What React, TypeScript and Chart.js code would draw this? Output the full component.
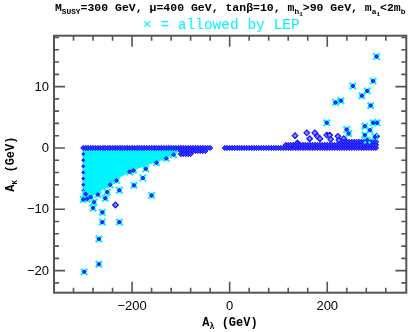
import React, { useEffect, useRef } from "react";
import { Chart, registerables } from "chart.js";
Chart.register(...registerables);

const X_MIN = -360;
const X_MAX = 362;
const Y_MIN = -23.6;
const Y_MAX = 18.3;
const xTickLabels = [-200, 0, 200];
const yTickLabels = [-20, -10, 0, 10];

// scan rows (blue diamonds)
const leftRow0X = [-300, -295, -290, -285, -280, -275, -270, -265, -260, -255, -250, -245, -240, -235, -230, -225, -220, -215, -210, -205, -200, -195, -190, -185, -180, -175, -170, -165, -160, -155, -150, -145, -140, -135, -130, -125, -120, -115, -110, -105, -100, -95, -90, -85, -80, -75, -70, -65, -60, -55, -50, -45, -40];
const leftRow0Y = 0;
const leftRow1X = [-100, -95, -90, -85, -80, -75, -70, -65, -60, -55, -50];
const leftRow1Y = -0.5;
const leftRow2X = [-100, -95, -90, -85, -80];
const leftRow2Y = -1.0;
const rightRow0X = [-10, -5, 0, 5, 10, 15, 20, 25, 30, 35, 40, 45, 50, 55, 60, 65, 70, 75, 80, 85, 90, 95, 100, 105, 110, 115, 120, 125, 130, 135, 140, 145, 150, 155, 160, 165, 170, 175, 180, 185, 190, 195, 200, 205, 210, 215, 220, 225, 230, 235, 240, 245, 250, 255, 260, 265, 270, 275, 280, 285, 290, 295, 300];
const rightRow0Y = 0;
const rightRow1X = [115, 120, 125, 130, 135, 140, 145, 150, 155, 160, 165, 170, 175, 180, 185, 190, 195, 200, 205, 210, 215, 220, 225, 230, 235, 240, 245, 250, 255, 260, 265, 270, 275, 280, 285, 290, 295, 300];
const rightRow1Y = 0.5;
const rightRow2X = [230, 235, 240, 245, 250, 255, 260, 265, 270, 275, 280, 285, 290, 295, 300];
const rightRow2Y = 1.0;
const edgeX = [-300, -300, -300, -300, -300, -300, -300, -296, -292];
const edgeY = [-1, -2, -3, -4, -5, -6, -7, -7.6, -8.0];

// not allowed scattered points
const otherX = [-234, 134, 158, 164, 174.5, 180, 185, 199, 205, 207, 222, 224, 234, 139, 301];
const otherY = [-9.3, 2.0, 2.46, 1.5, 2.46, 1.9, 1.5, 2.1, 2.1, 1.4, 1.9, 1.26, 1.5, 0.8, 1.9];

// allowed by LEP (cyan crosses)
const allowedX = [-197, -172, -178, -196, -226, -160, -232, -251, -255, -292, -278, -280, -261, -261, -226, -268, -268, -298, -150, -130, -115, -205, -245, -270, -285, -300, -295, 301, 294, 252.5, 282, 271, 289, 228, 217, 199, 240, 244, 277, 294, 302, 287.5, 277, 297.6, 282];
const allowedY = [-3.66, -3.4, -4.9, -6.1, -6.9, -7.75, -5.3, -7.2, -8.2, -8.3, -8.85, -9.8, -10.5, -12.1, -12.1, -14.85, -18.95, -20.2, -2.4, -1.7, -1.1, -3.9, -6.0, -7.6, -8.0, -8.4, -7.5, 14.9, 10.9, 10.1, 9.3, 8.5, 6.9, 7.7, 7.4, 4.1, 3.0, 2.35, 3.55, 4.1, 4.1, 2.9, 2.1, 1.8, 1.26];

// dense allowed region (lower boundary, filled to 0)
const lepRegionX = [-302, -290, -279, -265, -251, -240, -224, -205, -184, -165, -143, -125, -110, -100];
const lepRegionY = [-8.6, -8.4, -7.6, -7.0, -6.3, -5.5, -4.7, -3.8, -3.2, -2.6, -2.1, -1.4, -0.8, -0.3];

const BLUE = "#1010ff";
const CYAN = "#00f4ff";
const MONO = "'Liberation Mono', 'DejaVu Sans Mono', monospace";
const SANS = "'Liberation Sans', Arial, sans-serif";

type Seg = { t: string; l: number };

function richWidth(ctx: CanvasRenderingContext2D, segs: Seg[], size: number, weight: string) {
  let w = 0;
  for (const s of segs) {
    const fs = s.l === 0 ? size : s.l === 1 ? size * 0.68 : size * 0.52;
    ctx.font = `${weight} ${fs}px ${MONO}`;
    w += ctx.measureText(s.t).width;
  }
  return w;
}

function drawRich(ctx: CanvasRenderingContext2D, segs: Seg[], x: number, y: number, size: number, weight: string, color: string) {
  ctx.fillStyle = color;
  ctx.textBaseline = "alphabetic";
  ctx.textAlign = "left";
  let cx = x;
  for (const s of segs) {
    const fs = s.l === 0 ? size : s.l === 1 ? size * 0.68 : size * 0.52;
    const dy = s.l === 0 ? 0 : s.l === 1 ? size * 0.28 : size * 0.42;
    ctx.font = `${weight} ${fs}px ${MONO}`;
    ctx.fillText(s.t, cx, y + dy);
    cx += ctx.measureText(s.t).width;
  }
}

const titleSegs: Seg[] = [
  { t: "M", l: 0 }, { t: "SUSY", l: 1 }, { t: "=300 GeV, ", l: 0 },
  { t: "μ", l: 0 }, { t: "=400 GeV, tan", l: 0 }, { t: "β", l: 0 },
  { t: "=10, m", l: 0 }, { t: "h", l: 1 }, { t: "1", l: 2 },
  { t: ">90 GeV, m", l: 0 }, { t: "a", l: 1 }, { t: "1", l: 2 },
  { t: "<2m", l: 0 }, { t: "b", l: 1 },
];
const legendText = "× = allowed by LEP";
const xTitle: Seg[] = [{ t: "A", l: 0 }, { t: "λ", l: 1 }, { t: " (GeV)", l: 0 }];
const yTitle: Seg[] = [{ t: "A", l: 0 }, { t: "κ", l: 1 }, { t: " (GeV)", l: 0 }];

const framePlugin = {
  id: "framePlugin",
  afterDraw(chart: any) {
    const { ctx, chartArea: a, scales } = chart;
    const xs = scales.x;
    const ys = scales.y;
    ctx.save();
    ctx.strokeStyle = "#555";
    ctx.lineWidth = 2;
    ctx.strokeRect(a.left, a.top, a.right - a.left, a.bottom - a.top);
    ctx.lineWidth = 1.6;
    ctx.beginPath();
    for (let v = -360; v <= X_MAX; v += 40) {
      const p = xs.getPixelForValue(v);
      if (p < a.left + 1 || p > a.right - 1) continue;
      const len = v % 200 === 0 ? 11 : 5;
      ctx.moveTo(p, a.bottom);
      ctx.lineTo(p, a.bottom - len);
      ctx.moveTo(p, a.top);
      ctx.lineTo(p, a.top + len);
    }
    for (let v = -22; v <= Y_MAX; v += 2) {
      const p = ys.getPixelForValue(v);
      if (p < a.top + 1 || p > a.bottom - 1) continue;
      const len = v % 10 === 0 ? 11 : 5;
      ctx.moveTo(a.left, p);
      ctx.lineTo(a.left + len, p);
      ctx.moveTo(a.right, p);
      ctx.lineTo(a.right - len, p);
    }
    ctx.stroke();

    ctx.fillStyle = "#000";
    ctx.font = `13px ${SANS}`;
    ctx.textAlign = "right";
    ctx.textBaseline = "middle";
    for (const v of yTickLabels) {
      ctx.fillText(v < 0 ? "−" + Math.abs(v) : String(v), a.left - 5, ys.getPixelForValue(v) + 0.5);
    }
    ctx.textAlign = "center";
    ctx.textBaseline = "top";
    for (const v of xTickLabels) {
      ctx.fillText(v < 0 ? "−" + Math.abs(v) : String(v), xs.getPixelForValue(v), a.bottom + 7);
    }

    // title
    const tSize = 11.5;
    const tw = richWidth(ctx, titleSegs, tSize, "bold");
    drawRich(ctx, titleSegs, (a.left + a.right) / 2 - tw / 2, 11, tSize, "bold", "#000");
    // legend
    ctx.font = `14.5px ${MONO}`;
    ctx.fillStyle = CYAN;
    ctx.textAlign = "left";
    ctx.textBaseline = "alphabetic";
    ctx.fillText(legendText, 143, 29);
    // x title
    const xw = richWidth(ctx, xTitle, 12, "bold");
    drawRich(ctx, xTitle, 230 - xw / 2, 326, 12, "bold", "#000");
    // y title
    ctx.save();
    ctx.translate(14, (a.top + a.bottom) / 2);
    ctx.rotate(-Math.PI / 2);
    const yw = richWidth(ctx, yTitle, 12, "bold");
    drawRich(ctx, yTitle, -yw / 2, 0, 12, "bold", "#000");
    ctx.restore();
    ctx.restore();
  },
};

function pts(xsArr: number[], ysArr: number[]) {
  return xsArr.map((x, i) => ({ x, y: ysArr[i] }));
}
function row(xsArr: number[], y: number) {
  return xsArr.map((x) => ({ x, y }));
}

export default function App() {
  const ref = useRef<HTMLCanvasElement | null>(null);
  useEffect(() => {
    if (!ref.current) return;
    const bandPts = [
      ...row(leftRow0X, leftRow0Y),
      ...row(leftRow1X, leftRow1Y),
      ...row(leftRow2X, leftRow2Y),
      ...row(rightRow0X, rightRow0Y),
      ...row(rightRow1X, rightRow1Y),
      ...row(rightRow2X, rightRow2Y),
    ];
    const chart = new Chart(ref.current, {
      type: "scatter",
      data: {
        datasets: [
          {
            label: "allowed centre",
            data: pts(allowedX, allowedY),
            pointStyle: "rectRot",
            pointRadius: 2,
            borderColor: BLUE,
            backgroundColor: "#3030ff",
            borderWidth: 1,
            order: 0,
          },
          {
            label: "allowed",
            data: pts(allowedX, allowedY),
            pointStyle: "crossRot",
            pointRadius: 4.5,
            borderColor: CYAN,
            borderWidth: 2.2,
            order: 1,
          },
          {
            label: "scan",
            data: bandPts,
            pointStyle: "rectRot",
            pointRadius: 2.6,
            borderColor: BLUE,
            backgroundColor: "#3a3aff",
            borderWidth: 1,
            order: 2,
          },
          {
            label: "other",
            data: pts(otherX, otherY),
            pointStyle: "rectRot",
            pointRadius: 2.8,
            borderColor: BLUE,
            backgroundColor: "#8a8aff",
            borderWidth: 1.2,
            order: 2,
          },
          {
            label: "edge",
            data: pts(edgeX, edgeY),
            pointStyle: "rectRot",
            pointRadius: 1.5,
            borderColor: BLUE,
            backgroundColor: BLUE,
            borderWidth: 1,
            order: 2,
          },
          {
            label: "region",
            data: pts(lepRegionX, lepRegionY),
            showLine: true,
            fill: "origin",
            backgroundColor: CYAN,
            borderColor: CYAN,
            borderWidth: 1,
            pointRadius: 0,
            tension: 0,
            order: 3,
          } as any,
        ],
      },
      options: {
        animation: false,
        responsive: false,
        events: [],
        layout: { padding: { left: 54, right: 3.5, top: 35.7, bottom: 39.3 } },
        plugins: { legend: { display: false }, tooltip: { enabled: false } },
        scales: {
          x: { type: "linear", min: X_MIN, max: X_MAX, display: false },
          y: { type: "linear", min: Y_MIN, max: Y_MAX, display: false },
        },
      },
      plugins: [framePlugin],
    });
    return () => chart.destroy();
  }, []);
  return (
    <div style={{ position: "fixed", left: 0, top: 0, width: 413, height: 332, background: "#fff" }}>
      <canvas ref={ref} width={413} height={332} style={{ width: 413, height: 332 }} />
    </div>
  );
}
